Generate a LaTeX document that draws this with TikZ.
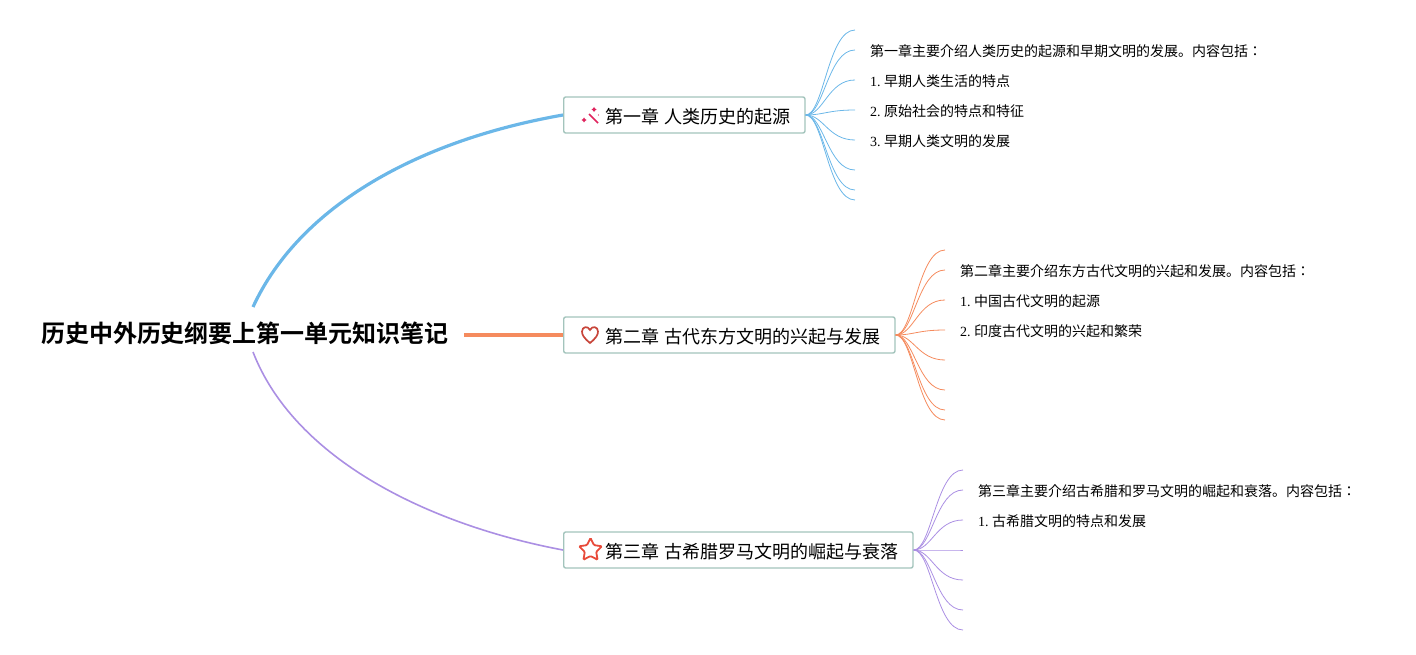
\documentclass[tikz,border=0pt]{standalone}
\usepackage{fontspec}
\setmainfont{Liberation Serif}
\newfontfamily\cjk[BoldFont={Noto Sans CJK JP Bold}]{Noto Sans CJK JP}
\frenchspacing
\usetikzlibrary{shapes.geometric}
\definecolor{blueline}{HTML}{6BB7E8}
\definecolor{orangeline}{HTML}{F58B5E}
\definecolor{purpleline}{HTML}{AB8FE3}
\definecolor{boxline}{HTML}{A3C4BC}
\definecolor{wandred}{HTML}{E0245E}
\definecolor{heartred}{HTML}{C8453A}
\definecolor{starred}{HTML}{E84A3A}
\tikzstyle{root} = [inner sep=0, font=\cjk\bfseries\fontsize{24}{24}\selectfont]
\tikzstyle{chapter} = [rectangle, rounded corners=2pt, draw=boxline, line width=1.4pt, fill=white, anchor=west, minimum height=36pt, text height=17.5pt, text depth=0.5pt, inner ysep=0, inner xsep=14.75pt, font=\fontsize{18}{18}\selectfont, execute at begin node=\hspace*{27.25pt}]
\tikzstyle{leaf} = [anchor=west, inner sep=0, font=\fontsize{14}{14}\selectfont]
\tikzstyle{fork} = [line width=0.8pt]

\begin{document}
\begin{tikzpicture}[x=1pt, y=-1pt]
\useasboundingbox (0,0) rectangle (1416,655);

%% NODES

\node (root) [root] at (245,333) {历史中外历史纲要上第一单元知识笔记};
\coordinate (r1) at (253,307);
\coordinate (r2) at (464,335);
\coordinate (r3) at (253,352);

\node (c1) [chapter] at (563,115) {{\cjk 第一章} {\cjk 人类历史的起源}};
\node (c2) [chapter] at (563,335) {{\cjk 第二章} {\cjk 古代东方文明的兴起与发展}};
\node (c3) [chapter] at (563,550) {{\cjk 第三章} {\cjk 古希腊罗马文明的崛起与衰落}};

\node (a1) [leaf] at (870,51) {\cjk 第一章主要介绍人类历史的起源和早期文明的发展。内容包括：};
\node (a2) [leaf] at (870,81) {1. {\cjk 早期人类生活的特点}};
\node (a3) [leaf] at (870,111) {2. {\cjk 原始社会的特点和特征}};
\node (a4) [leaf] at (870,141) {3. {\cjk 早期人类文明的发展}};
\node (b1) [leaf] at (960,271) {\cjk 第二章主要介绍东方古代文明的兴起和发展。内容包括：};
\node (b2) [leaf] at (960,301) {1. {\cjk 中国古代文明的起源}};
\node (b3) [leaf] at (960,331) {2. {\cjk 印度古代文明的兴起和繁荣}};
\node (d1) [leaf] at (978,491) {\cjk 第三章主要介绍古希腊和罗马文明的崛起和衰落。内容包括：};
\node (d2) [leaf] at (978,521) {1. {\cjk 古希腊文明的特点和发展}};

\coordinate (e11) at (855,30);
\coordinate (e12) at (855,50);
\coordinate (e13) at (855,80);
\coordinate (e14) at (855,110);
\coordinate (e15) at (855,140);
\coordinate (e16) at (855,170);
\coordinate (e17) at (855,190);
\coordinate (e18) at (855,200);
\coordinate (e21) at (945,250);
\coordinate (e22) at (945,270);
\coordinate (e23) at (945,300);
\coordinate (e24) at (945,330);
\coordinate (e25) at (945,360);
\coordinate (e26) at (945,390);
\coordinate (e27) at (945,410);
\coordinate (e28) at (945,420);
\coordinate (e31) at (963,470);
\coordinate (e32) at (963,490);
\coordinate (e33) at (963,520);
\coordinate (e34) at (963,550);
\coordinate (e35) at (963,580);
\coordinate (e36) at (963,610);
\coordinate (e37) at (963,630);

%% ICONS

\node (i3) [star, star points=5, star point ratio=2, draw=starred, line width=1.8pt, rounded corners=1pt, minimum size=24pt, inner sep=0] at (590.5,550) {};
\draw [draw=heartred, line width=1.7pt] (590,343) .. controls (584,338) and (582,335) .. (582,331.5) .. controls (582,326.5) and (588,325.5) .. (590,330) .. controls (592,325.5) and (598,326.5) .. (598,331.5) .. controls (598,335) and (596,338) .. (590,343) -- cycle;
\draw [draw=wandred, line width=1.5pt] (589,114) -- (598,123);
\fill [wandred] (594,107) -- (595,108.5) -- (596.5,109.5) -- (595,110.5) -- (594,112) -- (593,110.5) -- (591.5,109.5) -- (593,108.5) -- cycle;
\fill [wandred] (584,117.5) -- (585,119) -- (586.5,120) -- (585,121) -- (584,122.5) -- (583,121) -- (581.5,120) -- (583,119) -- cycle;
\fill [wandred] (598.5,115) circle (0.7);

%% ARROWS

\draw [blueline, line width=3.2pt] (r1) .. controls (300,205) and (420,140) .. (c1.west);
\draw [orangeline, line width=3.2pt] (r2) -- (c2.west);
\draw [purpleline, line width=1.6pt] (r3) .. controls (295,460) and (430,525) .. (c3.west);

\draw [blueline, fork] (c1.east) .. controls +(18,0) and +(-27,0) .. (e11);
\draw [blueline, fork] (c1.east) .. controls +(18,0) and +(-27,0) .. (e12);
\draw [blueline, fork] (c1.east) .. controls +(18,0) and +(-27,0) .. (e13);
\draw [blueline, fork] (c1.east) .. controls +(18,0) and +(-27,0) .. (e14);
\draw [blueline, fork] (c1.east) .. controls +(18,0) and +(-27,0) .. (e15);
\draw [blueline, fork] (c1.east) .. controls +(18,0) and +(-27,0) .. (e16);
\draw [blueline, fork] (c1.east) .. controls +(18,0) and +(-27,0) .. (e17);
\draw [blueline, fork] (c1.east) .. controls +(18,0) and +(-27,0) .. (e18);
\draw [orangeline, fork] (c2.east) .. controls +(18,0) and +(-27,0) .. (e21);
\draw [orangeline, fork] (c2.east) .. controls +(18,0) and +(-27,0) .. (e22);
\draw [orangeline, fork] (c2.east) .. controls +(18,0) and +(-27,0) .. (e23);
\draw [orangeline, fork] (c2.east) .. controls +(18,0) and +(-27,0) .. (e24);
\draw [orangeline, fork] (c2.east) .. controls +(18,0) and +(-27,0) .. (e25);
\draw [orangeline, fork] (c2.east) .. controls +(18,0) and +(-27,0) .. (e26);
\draw [orangeline, fork] (c2.east) .. controls +(18,0) and +(-27,0) .. (e27);
\draw [orangeline, fork] (c2.east) .. controls +(18,0) and +(-27,0) .. (e28);
\draw [purpleline, fork] (c3.east) .. controls +(18,0) and +(-27,0) .. (e31);
\draw [purpleline, fork] (c3.east) .. controls +(18,0) and +(-27,0) .. (e32);
\draw [purpleline, fork] (c3.east) .. controls +(18,0) and +(-27,0) .. (e33);
\draw [purpleline, fork] (c3.east) .. controls +(18,0) and +(-27,0) .. (e34);
\draw [purpleline, fork] (c3.east) .. controls +(18,0) and +(-27,0) .. (e35);
\draw [purpleline, fork] (c3.east) .. controls +(18,0) and +(-27,0) .. (e36);
\draw [purpleline, fork] (c3.east) .. controls +(18,0) and +(-27,0) .. (e37);
\end{tikzpicture}
\end{document}
